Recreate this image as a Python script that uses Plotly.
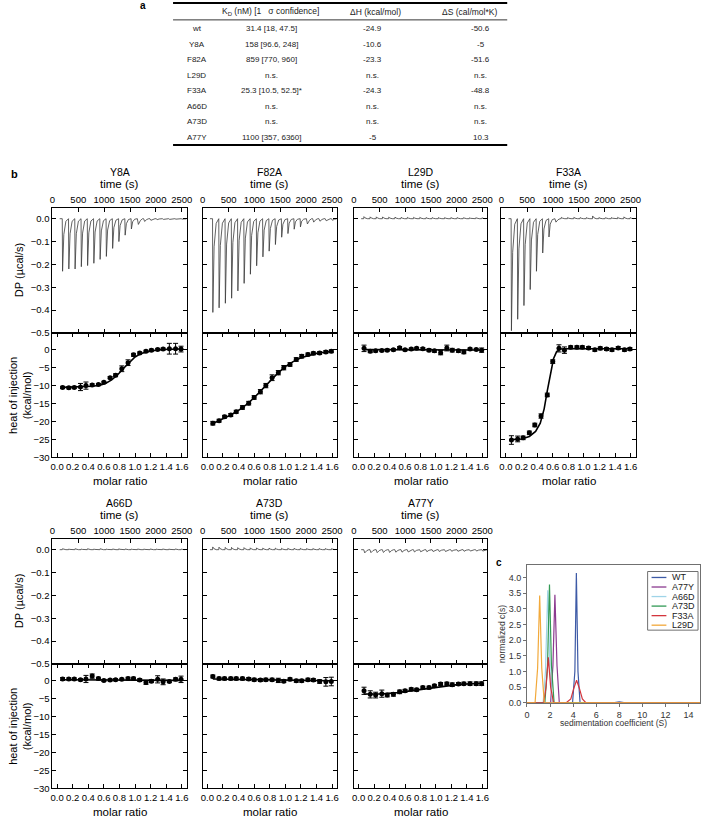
import plotly.graph_objects as go

W, H = 706, 823
FONT = "Liberation Sans, Arial, sans-serif"

# ---------------- data: table (panel a) ----------------
table_header = ["", "K<sub>D</sub> (nM) [1   σ confidence]", "ΔH (kcal/mol)", "ΔS (cal/mol*K)"]
table_names = ["wt", "Y8A", "F82A", "L29D", "F33A", "A66D", "A73D", "A77Y"]
table_kd = ["31.4 [18, 47.5]", "158 [96.6, 248]", "859 [770, 960]", "n.s.",
            "25.3 [10.5, 52.5]*", "n.s.", "n.s.", "1100 [357, 6360]"]
table_dh = ["-24.9", "-10.6", "-23.3", "n.s.", "-24.3", "n.s.", "n.s.", "-5"]
table_ds = ["-50.6", "-5", "-51.6", "n.s.", "-48.8", "n.s.", "n.s.", "10.3"]

# ---------------- data: ITC (panel b) ----------------
injection_time_s = [190, 311, 432, 553, 674, 795, 916, 1037, 1158, 1279,
                    1400, 1521, 1642, 1763, 1884, 2005, 2126, 2247, 2368, 2489]
molar_ratio = [0.07, 0.15, 0.22, 0.30, 0.37, 0.45, 0.53, 0.60, 0.68, 0.75, 0.83,
               0.91, 0.98, 1.06, 1.14, 1.21, 1.29, 1.36, 1.44, 1.52, 1.59]

panel_names = ["Y8A", "F82A", "L29D", "F33A", "A66D", "A73D", "A77Y"]

dp_peaks = {
    "Y8A": [-0.23, -0.22, -0.22, -0.21, -0.205, -0.195, -0.178, -0.165, -0.13, -0.10,
            -0.072, -0.045, -0.025, -0.012, -0.007, -0.004, -0.003, -0.003, -0.002, -0.002],
    "F82A": [-0.41, -0.39, -0.37, -0.348, -0.316, -0.283, -0.243, -0.206, -0.167, -0.142,
             -0.113, -0.081, -0.065, -0.046, -0.036, -0.023, -0.015, -0.011, -0.009, -0.007],
    "L29D": [0.009, 0.008, 0.008, 0.008, 0.007, 0.007, 0.006, 0.006, 0.006, 0.006,
             0.005, 0.005, 0.005, 0.005, 0.005, 0.005, 0.004, 0.004, 0.004, 0.004],
    "F33A": [-0.49, -0.44, -0.38, -0.31, -0.23, -0.15, -0.08, -0.015, 0.006, 0.005,
             0.006, 0.005, 0.005, 0.012, 0.005, 0.004, 0.005, 0.006, 0.008, 0.005],
    "A66D": [0.004, 0.003, 0.004, 0.003, 0.004, 0.003, 0.004, 0.003, 0.003, 0.004,
             0.003, 0.003, 0.003, 0.003, 0.003, 0.003, 0.003, 0.003, 0.003, 0.003],
    "A73D": [0.012, 0.011, 0.010, 0.010, 0.009, 0.009, 0.008, 0.008, 0.007, 0.007,
             0.007, 0.006, 0.006, 0.006, 0.006, 0.005, 0.005, 0.005, 0.005, 0.005],
    "A77Y": [-0.014, -0.013, -0.013, -0.012, -0.012, -0.011, -0.011, -0.010, -0.010, -0.009,
             -0.009, -0.008, -0.008, -0.008, -0.007, -0.007, -0.007, -0.006, -0.006, -0.006],
}

heat = {
    "Y8A": [-10.5, -10.6, -10.5, -10.4, -10.0, -9.8, -9.7, -9.1, -7.8, -7.1, -5.3,
            -3.6, -1.4, -0.9, -0.4, -0.1, 0.1, 0.2, 0.3, 0.3, 0.2],
    "F82A": [-20.5, -19.8, -18.7, -18.2, -17.3, -16.1, -14.9, -13.3, -11.7, -10.0, -7.8,
             -6.4, -5.0, -4.1, -2.7, -1.8, -1.3, -1.0, -0.9, -0.6, -0.4],
    "L29D": [0.4, -0.4, -0.3, -0.2, -0.1, 0.0, 0.6, 0.0, 0.2, 0.4, 0.3,
             -0.1, -0.3, -0.8, 0.5, -0.1, -0.3, -0.6, 0.2, 0.1, -0.1],
    "F33A": [-25.2, -24.9, -24.6, -23.2, -21.0, -18.5, -12.6, -3.3, 0.4, -0.1, 0.7,
             0.7, 0.7, 0.5, 0.0, 0.4, 0.2, 0.0, 0.5, 0.0, 0.2],
    "A66D": [0.5, 0.5, 0.5, 0.3, 0.5, 1.3, 0.6, 0.1, 0.2, 0.3, 0.4,
             0.6, 0.6, 0.2, -0.5, -0.1, 0.4, -0.3, -0.2, 0.4, 0.4],
    "A73D": [1.2, 0.6, 0.6, 0.6, 0.6, 0.6, 0.5, 0.3, 0.2, 0.3, 0.3,
             0.1, -0.1, 0.4, 0.0, 0.0, 0.3, 0.2, -0.2, -0.3, -0.2],
    "A77Y": [-2.8, -3.8, -4.0, -3.6, -4.0, -3.8, -3.1, -2.8, -2.4, -2.5, -1.9,
             -1.9, -1.4, -0.9, -0.8, -1.1, -0.9, -0.8, -0.8, -0.8, -0.8],
}

heat_err = {
    "Y8A": [0.3, 0.3, 0.3, 1.0, 1.0, 0.3, 0.3, 0.3, 0.3, 0.4, 0.8,
            0.8, 0.4, 0.3, 0.3, 0.3, 0.3, 0.3, 1.5, 1.5, 0.8],
    "F82A": [0.5, 0.4, 0.4, 0.4, 0.4, 0.5, 0.5, 0.5, 0.6, 0.6, 0.8,
             0.6, 0.6, 0.5, 0.5, 0.5, 0.4, 0.4, 0.4, 0.4, 0.4],
    "L29D": [0.9, 0.4, 0.3, 0.3, 0.3, 0.3, 0.3, 0.3, 0.3, 0.3, 0.3,
             0.4, 0.4, 0.6, 0.8, 0.5, 0.4, 0.5, 0.3, 0.3, 0.6],
    "F33A": [1.2, 0.8, 0.5, 0.5, 0.5, 0.6, 0.5, 0.5, 1.0, 0.9, 0.4,
             0.4, 0.4, 0.4, 0.4, 0.4, 0.4, 0.4, 0.4, 0.4, 0.4],
    "A66D": [0.4, 0.3, 0.3, 0.3, 1.0, 0.6, 0.4, 0.3, 0.3, 0.3, 0.3,
             0.4, 0.4, 0.4, 0.5, 0.4, 1.0, 0.8, 0.3, 0.4, 0.9],
    "A73D": [0.4, 0.4, 0.4, 0.4, 0.4, 0.4, 0.4, 0.4, 0.4, 0.4, 0.4,
             0.6, 0.4, 0.4, 0.4, 0.4, 0.4, 0.4, 0.5, 1.2, 1.2],
    "A77Y": [1.0, 1.0, 0.8, 1.0, 0.5, 0.5, 0.5, 0.4, 0.4, 0.4, 0.4,
             0.4, 0.4, 0.4, 0.4, 0.5, 0.4, 0.4, 0.5, 0.5, 0.5],
}

fit_ratio = {
    "Y8A": [0.07, 0.30, 0.45, 0.55, 0.62, 0.70, 0.78, 0.86, 0.94, 1.00, 1.08, 1.20, 1.35, 1.59],
    "F82A": [0.07, 0.2, 0.3, 0.4, 0.5, 0.6, 0.7, 0.8, 0.9, 1.0, 1.1, 1.2, 1.3, 1.4, 1.5, 1.59],
    "L29D": [0.07, 1.59],
    "F33A": [0.07, 0.20, 0.30, 0.38, 0.44, 0.49, 0.53, 0.57, 0.61, 0.65, 0.70, 0.80, 1.59],
    "A66D": [0.07, 1.59],
    "A73D": [0.07, 1.59],
    "A77Y": [0.07, 0.30, 0.50, 0.80, 1.10, 1.30, 1.59],
}
fit_heat = {
    "Y8A": [-10.5, -10.4, -10.2, -9.9, -9.4, -8.4, -6.9, -5.0, -3.2, -2.0, -1.0, -0.3, 0.1, 0.2],
    "F82A": [-20.6, -19.3, -18.2, -16.9, -15.3, -13.4, -11.2, -8.9, -6.6, -4.7, -3.3, -2.2,
             -1.5, -1.0, -0.7, -0.5],
    "L29D": [0.05, -0.05],
    "F33A": [-25.1, -24.9, -24.2, -22.8, -20.5, -16.5, -11.5, -6.5, -2.5, -0.5, 0.2, 0.3, 0.3],
    "A66D": [0.3, 0.1],
    "A73D": [0.5, 0.0],
    "A77Y": [-3.7, -3.7, -3.3, -2.4, -1.5, -1.0, -0.7],
}

# ---------------- data: c(s) (panel c) ----------------
cs_names = ["WT", "A77Y", "A66D", "A73D", "F33A", "L29D"]
cs_colors = ["#3d5aa6", "#8b3a8f", "#9fd4e8", "#329a55", "#d3353d", "#f2a93b"]
cs_s = {
    "WT": [0, 3.95, 4.15, 4.28, 4.42, 4.6, 7.6, 8.0, 8.4, 15],
    "A77Y": [0, 2.05, 2.25, 2.42, 2.6, 2.8, 15],
    "A66D": [0, 1.4, 1.6, 1.8, 2.0, 2.2, 15],
    "A73D": [0, 1.55, 1.78, 1.95, 2.12, 2.35, 15],
    "F33A": [0, 1.45, 1.65, 1.85, 2.05, 2.3, 3.4, 3.8, 4.05, 4.3, 4.55, 4.8, 5.1, 15],
    "L29D": [0, 0.7, 0.92, 1.1, 1.28, 1.5, 15],
}
cs_c = {
    "WT": [0, 0, 1.0, 4.15, 1.0, 0, 0, 0.03, 0, 0],
    "A77Y": [0, 0, 1.2, 3.45, 1.2, 0, 0],
    "A66D": [0, 0, 1.0, 3.6, 1.0, 0, 0],
    "A73D": [0, 0, 1.2, 3.78, 1.2, 0, 0],
    "F33A": [0, 0, 0.5, 1.45, 0.5, 0, 0, 0.12, 0.45, 0.72, 0.45, 0.12, 0, 0],
    "L29D": [0, 0, 1.1, 3.43, 1.1, 0, 0],
}

# ---------------- layout geometry (pixels) ----------------
col_x = [(50, 186), (202, 338), (355, 490), (504, 640)]
row_y = [(209, 335, 460), (542, 668, 793)]
panel_cell = [(0, 0), (0, 1), (0, 2), (0, 3), (1, 0), (1, 1), (1, 2)]
c_box = (530, 705, 568, 707)


def X(px):
    return px / W


def Y(py):
    return 1 - py / H


annotations = []
shapes = []


def ann(x, y, text, size=11, color="black", angle=0, xanchor="center", yanchor="middle"):
    annotations.append(dict(x=X(x), y=Y(y), xref="paper", yref="paper", text=text,
                            showarrow=False, textangle=angle, xanchor=xanchor, yanchor=yanchor,
                            font=dict(family=FONT, size=size, color=color)))


def line_px(x0, y0, x1, y1, color="black", width=1):
    shapes.append(dict(type="line", xref="paper", yref="paper", x0=X(x0), y0=Y(y0),
                       x1=X(x1), y1=Y(y1), line=dict(color=color, width=width)))


fig = go.Figure()

# ---------------- panel a: table ----------------
ann(142, 6, "<b>a</b>", size=10)
line_px(172, 3, 510, 3, width=2)
line_px(172, 20, 510, 20, width=0.8)
line_px(172, 146, 510, 146, width=2)
header_x = [196, 271, 377, 472]
value_x = [196, 272, 374, 483]
for hx, htxt in zip(header_x, table_header):
    if htxt:
        ann(hx, 12, htxt, size=8.5, color="#222")
for r in range(len(table_names)):
    yy = 29 + r * 15.6
    for cx, col in zip(value_x, [table_names, table_kd, table_dh, table_ds]):
        ann(cx, yy, col[r], size=8, color="#222")

# ---------------- panel b: ITC ----------------
ann(12, 175, "<b>b</b>", size=11)


def base_axis(**kw):
    d = dict(showline=True, linecolor="black", linewidth=1, mirror="ticks", ticks="inside",
             ticklen=4, tickcolor="black", tickwidth=1, showgrid=False, zeroline=False,
             tickangle=0, tickfont=dict(family=FONT, size=9.5, color="black"))
    d.update(kw)
    return d


def dp_line(times, peaks):
    xs, ys = [140], [0.0]
    for t, h in zip(times, peaks):
        if h < -0.03:
            pts = [(t, 0), (t + 6, h), (t + 30, 0.3 * h), (t + 70, 0.05 * h), (t + 110, 0)]
        elif h < 0:
            pts = [(t, 0), (t + 20, h), (t + 60, 0.3 * h), (t + 100, 0)]
        else:
            pts = [(t, 0), (t + 4, h), (t + 25, 0.4 * h), (t + 70, 0)]
        for px_, py_ in pts:
            xs.append(px_)
            ys.append(py_)
    xs.append(2560)
    ys.append(0.0)
    return xs, ys


layout_axes = {}
for i, name in enumerate(panel_names):
    row, col = panel_cell[i]
    x0, x1 = col_x[col]
    ytop, ydiv, ybot = row_y[row]
    n_dp, n_ht = 2 * i + 1, 2 * i + 2
    kx_dp = "xaxis" if n_dp == 1 else f"xaxis{n_dp}"
    ky_dp = "yaxis" if n_dp == 1 else f"yaxis{n_dp}"
    kx_ht, ky_ht = f"xaxis{n_ht}", f"yaxis{n_ht}"
    rx_dp = "x" if n_dp == 1 else f"x{n_dp}"
    ry_dp = "y" if n_dp == 1 else f"y{n_dp}"
    rx_ht, ry_ht = f"x{n_ht}", f"y{n_ht}"

    layout_axes[kx_dp] = base_axis(domain=[X(x0), X(x1)], range=[0, 2600], side="top",
                                   tickvals=[0, 500, 1000, 1500, 2000, 2500], anchor=ry_dp)
    layout_axes[ky_dp] = base_axis(domain=[Y(ydiv), Y(ytop)], range=[-0.5, 0.048],
                                   tickvals=[0, -0.1, -0.2, -0.3, -0.4, -0.5], tickformat=".1f",
                                   showticklabels=(col == 0), anchor=rx_dp)
    layout_axes[kx_ht] = base_axis(domain=[X(x0), X(x1)], range=[-0.06, 1.665],
                                   tickvals=[0, 0.2, 0.4, 0.6, 0.8, 1.0, 1.2, 1.4, 1.6],
                                   tickformat=".1f", anchor=ry_ht)
    layout_axes[ky_ht] = base_axis(domain=[Y(ybot), Y(ydiv)], range=[-30, 4.7],
                                   tickvals=[0, -5, -10, -15, -20, -25, -30],
                                   showticklabels=(col == 0), anchor=rx_ht)

    xs, ys = dp_line(injection_time_s, dp_peaks[name])
    fig.add_trace(go.Scatter(x=xs, y=ys, mode="lines", line=dict(color="#3a3a3a", width=0.8),
                             xaxis=rx_dp, yaxis=ry_dp, showlegend=False, hoverinfo="skip"))
    fig.add_trace(go.Scatter(x=fit_ratio[name], y=fit_heat[name], mode="lines",
                             line=dict(color="black", width=1.6), xaxis=rx_ht, yaxis=ry_ht,
                             showlegend=False, hoverinfo="skip"))
    fig.add_trace(go.Scatter(x=molar_ratio, y=heat[name], mode="markers",
                             marker=dict(color="black", size=5, symbol="circle"),
                             error_y=dict(type="data", array=heat_err[name], color="black",
                                          thickness=1, width=2.5),
                             xaxis=rx_ht, yaxis=ry_ht, showlegend=False, hoverinfo="skip"))

    cx = (x0 + x1) / 2
    ann(cx, ytop - 36, name, size=10.5)
    ann(cx, ytop - 24, "time (s)", size=11.5)
    ann(cx, ybot + 24, "molar ratio", size=11.5)
    if col == 0:
        ann(17, (ytop + ydiv) / 2, "DP (µcal/s)", size=11, angle=-90)
        ann(17, (ydiv + ybot) / 2, "heat of injection<br>(kcal/mol)", size=11, angle=-90)

# ---------------- panel c: c(s) ----------------
cx0, cx1, cy0, cy1 = c_box
gray_axis = dict(showline=True, linecolor="#707070", linewidth=1, mirror=True, ticks="outside",
                 ticklen=3, tickcolor="#707070", showgrid=False, zeroline=False, tickangle=0,
                 tickfont=dict(family=FONT, size=9, color="#333"))
layout_axes["xaxis15"] = dict(gray_axis, domain=[X(cx0), X(cx1)], range=[0, 15],
                              tickvals=[0, 2, 4, 6, 8, 10, 12, 14], anchor="y15")
layout_axes["yaxis15"] = dict(gray_axis, domain=[Y(cy1), Y(cy0)], range=[0, 4.42],
                              tickvals=[0, 0.5, 1, 1.5, 2, 2.5, 3, 3.5, 4], tickformat=".1f",
                              anchor="x15")
for nm, colr in zip(cs_names, cs_colors):
    fig.add_trace(go.Scatter(x=cs_s[nm], y=cs_c[nm], mode="lines", name=nm,
                             line=dict(color=colr, width=1.2), xaxis="x15", yaxis="y15",
                             showlegend=False, hoverinfo="skip"))

ann(502, 566, "<b>c</b>", size=10)
ann(504, (cy0 + cy1) / 2, "normalized c(s)", size=8.5, color="#333", angle=-90)
ann((cx0 + cx1) / 2, 727, "sedimentation coefficient (S)", size=8.5, color="#333")

# manual compact legend
shapes.append(dict(type="rect", xref="paper", yref="paper", x0=X(652), x1=X(703),
                   y0=Y(634), y1=Y(575), line=dict(color="#707070", width=1),
                   fillcolor="white"))
for k, (nm, colr) in enumerate(zip(cs_names, cs_colors)):
    yy = 581 + k * 9.6
    line_px(656, yy, 671, yy, color=colr, width=1.3)
    ann(675, yy, nm, size=9, color="#222", xanchor="left")

fig.update_layout(width=W, height=H, margin=dict(l=0, r=0, t=0, b=0), autosize=False,
                  paper_bgcolor="white", plot_bgcolor="rgba(0,0,0,0)",
                  annotations=annotations, shapes=shapes, showlegend=False,
                  font=dict(family=FONT), **layout_axes)

fig.write_html("out.html", config={"displayModeBar": False, "staticPlot": True},
               post_script="document.body.style.margin='0';document.body.style.overflow='hidden';")
